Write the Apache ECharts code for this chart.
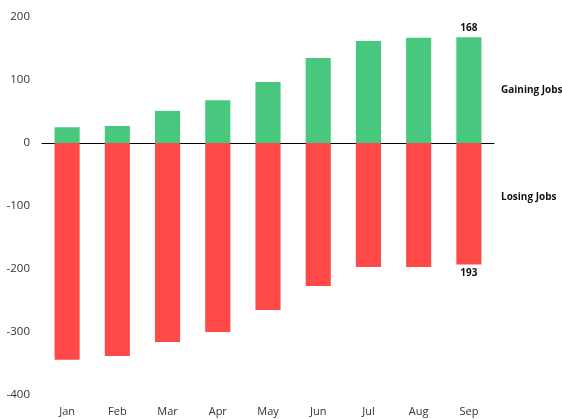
<!DOCTYPE html>
<html><head><meta charset="utf-8">
<script src="https://cdn.jsdelivr.net/npm/echarts@6/dist/echarts.min.js"></script>
<style>html,body{margin:0;padding:0;background:#fff}#c{width:562px;height:419px}</style>
</head><body><div id="c"></div>
<script>
const months = ['Jan','Feb','Mar','Apr','May','Jun','Jul','Aug','Sep'];
const gaining = [25, 27, 51, 68, 97, 135, 162, 167, 168];
const losing = [-344, -338, -316, -300, -265, -227, -197, -197, -193];
const yTicks = {min: -400, max: 200, interval: 100};

const font = 'Open Sans, Liberation Sans, sans-serif';
const chart = echarts.init(document.getElementById('c'));
const last = months.length - 1;
chart.setOption({
  animation: false,
  grid: {left: 42, right: 68, top: 17, bottom: 24},
  xAxis: {
    type: 'category', data: months,
    axisLine: {onZero: true, lineStyle: {color: '#000', width: 1}},
    axisTick: {show: false},
    axisLabel: {color: '#333', fontSize: 11, fontFamily: font, margin: 11},
    position: 'bottom'
  },
  yAxis: {
    type: 'value', min: yTicks.min, max: yTicks.max, interval: yTicks.interval,
    splitLine: {show: false}, axisLine: {show: false}, axisTick: {show: false},
    axisLabel: {color: '#333', fontSize: 11.5, fontFamily: font, margin: 12}
  },
  series: [
    {type: 'bar', stack: 'a', data: gaining.map((v, i) => i === last ? {value: v, label: {show: true, position: 'top', formatter: '{c}', fontWeight: 'bold', color: '#111', fontSize: 10, fontFamily: font, distance: 4}} : v),
     barWidth: '50%', itemStyle: {color: '#48C77F'}},
    {type: 'bar', stack: 'a', data: losing.map((v, i) => i === last ? {value: v, label: {show: true, position: 'bottom', formatter: p => Math.abs(p.value), fontWeight: 'bold', color: '#111', fontSize: 10, fontFamily: font, distance: 4}} : v),
     barWidth: '50%', itemStyle: {color: '#FF4848'}}
  ],
  graphic: [
    {type: 'text', left: 501, top: 85, style: {text: 'Gaining Jobs', fontWeight: 'bold', fontSize: 10, fill: '#111', fontFamily: font}},
    {type: 'text', left: 501, top: 192, style: {text: 'Losing Jobs', fontWeight: 'bold', fontSize: 10, fill: '#111', fontFamily: font}}
  ]
});
</script></body></html>
